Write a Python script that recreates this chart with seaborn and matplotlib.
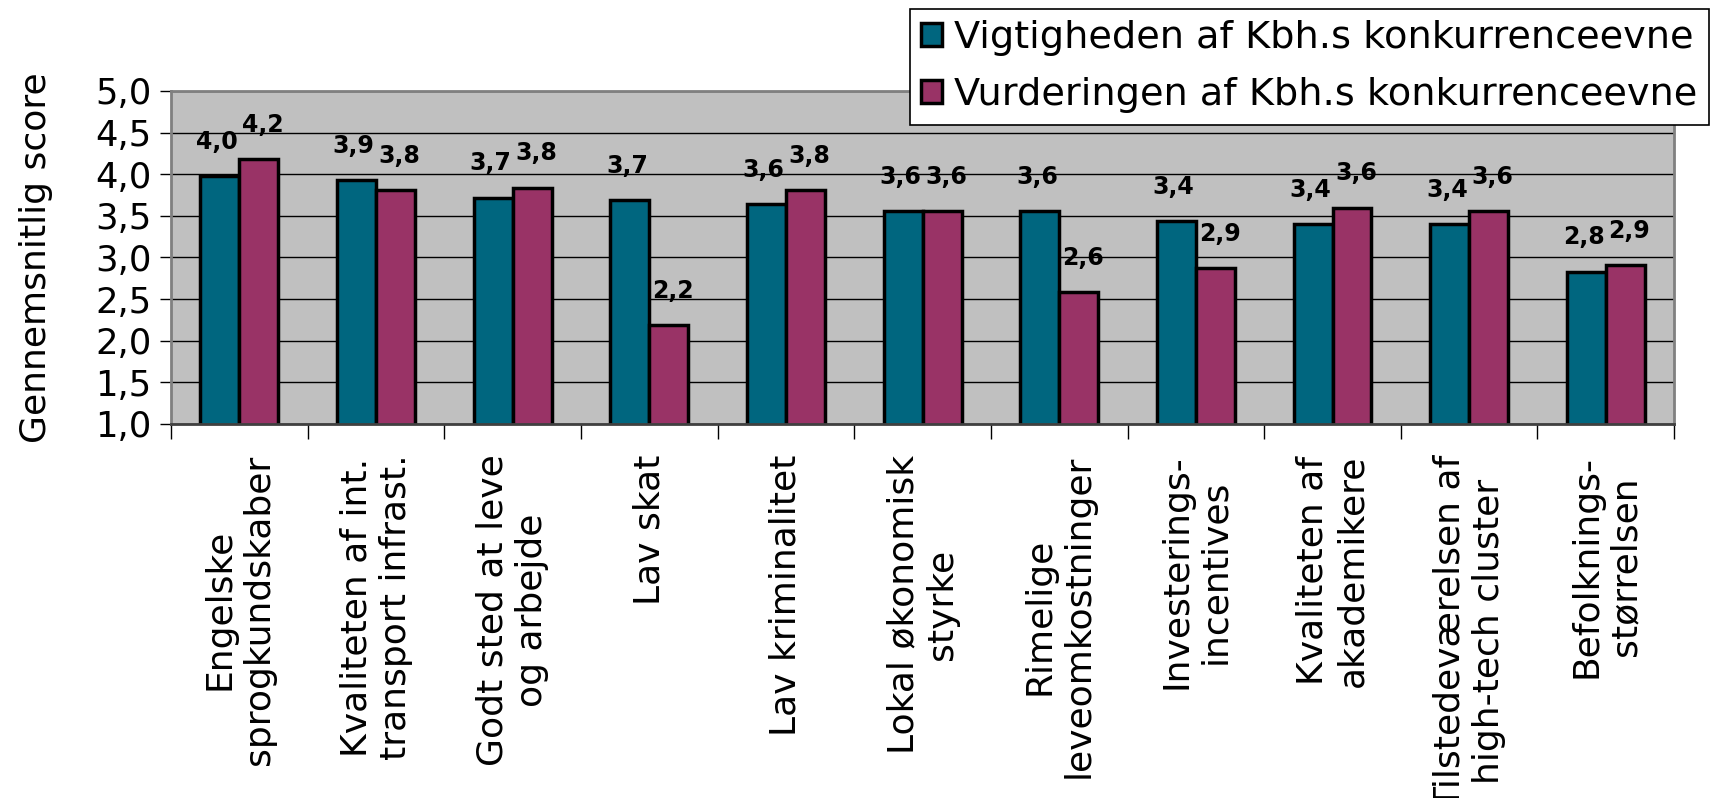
import numpy as np
import pandas as pd
import matplotlib
matplotlib.use("Agg")
import matplotlib.pyplot as plt
import seaborn as sns
from matplotlib.ticker import FuncFormatter

categories = ["Engelske\nsprogkundskaber", "Kvaliteten af int.\ntransport infrast.",
              "Godt sted at leve\nog arbejde", "Lav skat", "Lav kriminalitet",
              "Lokal økonomisk\nstyrke", "Rimelige\nleveomkostninger",
              "Investerings-\nincentives", "Kvaliteten af\nakademikere",
              "Tilstedeværelsen af\nhigh-tech cluster", "Befolknings-\nstørrelsen"]
series = ["Vigtigheden af Kbh.s konkurrenceevne", "Vurderingen af Kbh.s konkurrenceevne"]
vigtighed = [3.98, 3.93, 3.72, 3.69, 3.64, 3.56, 3.56, 3.44, 3.40, 3.40, 2.83]
vurdering = [4.18, 3.81, 3.84, 2.19, 3.81, 3.56, 2.58, 2.87, 3.60, 3.56, 2.91]

df = pd.DataFrame({
    "kategori": categories * 2,
    "serie": [series[0]] * len(categories) + [series[1]] * len(categories),
    "score": vigtighed + vurdering,
})

def komma(v, pos=None):
    return f"{v:.1f}".replace(".", ",")

fig = plt.figure(figsize=(17.35, 7.98), dpi=100)
ax = fig.add_axes([0.0986, 0.4687, 0.8663, 0.4173])

sns.barplot(data=df, x="kategori", y="score", hue="serie", order=categories,
            hue_order=series, palette=["#00667F", "#993366"], width=0.57,
            edgecolor="black", linewidth=2.5, saturation=1, ax=ax)

# værdier over søjlerne, lidt skubbet til hver side
for cont, dx in zip(ax.containers, [-2, 3]):
    for b in cont:
        ax.annotate(komma(b.get_height()), (b.get_x() + b.get_width() / 2, b.get_height()),
                    xytext=(dx, 16), textcoords="offset points", ha="center", va="bottom",
                    fontsize=17, fontweight="bold")

ax.set_facecolor("#C0C0C0")
ax.set_ylim(1, 5)
ax.set_yticks(np.arange(1, 5.01, 0.5))
ax.yaxis.set_major_formatter(FuncFormatter(komma))
ax.yaxis.grid(True, color="black", linewidth=1)
ax.set_axisbelow(True)
ax.set_xlim(-0.5, len(categories) - 0.5)

ax.set_xticks(range(len(categories)))
ax.set_xticklabels(categories, rotation=90, ha="center", va="top",
                   multialignment="center", fontsize=26)
ax.tick_params(axis="x", length=0, pad=22)
ax.set_xticks(np.arange(-0.5, len(categories), 1), minor=True)
ax.tick_params(axis="x", which="minor", length=11, width=1, direction="out")
ax.tick_params(axis="y", labelsize=25.5, length=8, width=1, pad=6)

for s in ax.spines.values():
    s.set_color("#808080")
    s.set_linewidth(2)
ax.spines["bottom"].set_color("#404040")

ax.set_xlabel("")
ax.set_ylabel("Gennemsnitlig score", fontsize=26, labelpad=30)

handles, labels = ax.get_legend_handles_labels()
leg = ax.legend(handles, labels, loc="upper left", bbox_to_anchor=(910 / 1735, 1 - 9 / 798),
                bbox_transform=fig.transFigure, fontsize=27.5, frameon=True,
                fancybox=False, framealpha=1, edgecolor="black",
                handlelength=0.55, handleheight=0.55, handletextpad=0.3,
                borderpad=0.3, labelspacing=0.55, borderaxespad=0)
leg.get_frame().set_linewidth(1.2)
for h in leg.legend_handles:
    h.set_edgecolor("black")
    h.set_linewidth(2.5)

fig.savefig("out.png", dpi=100)
